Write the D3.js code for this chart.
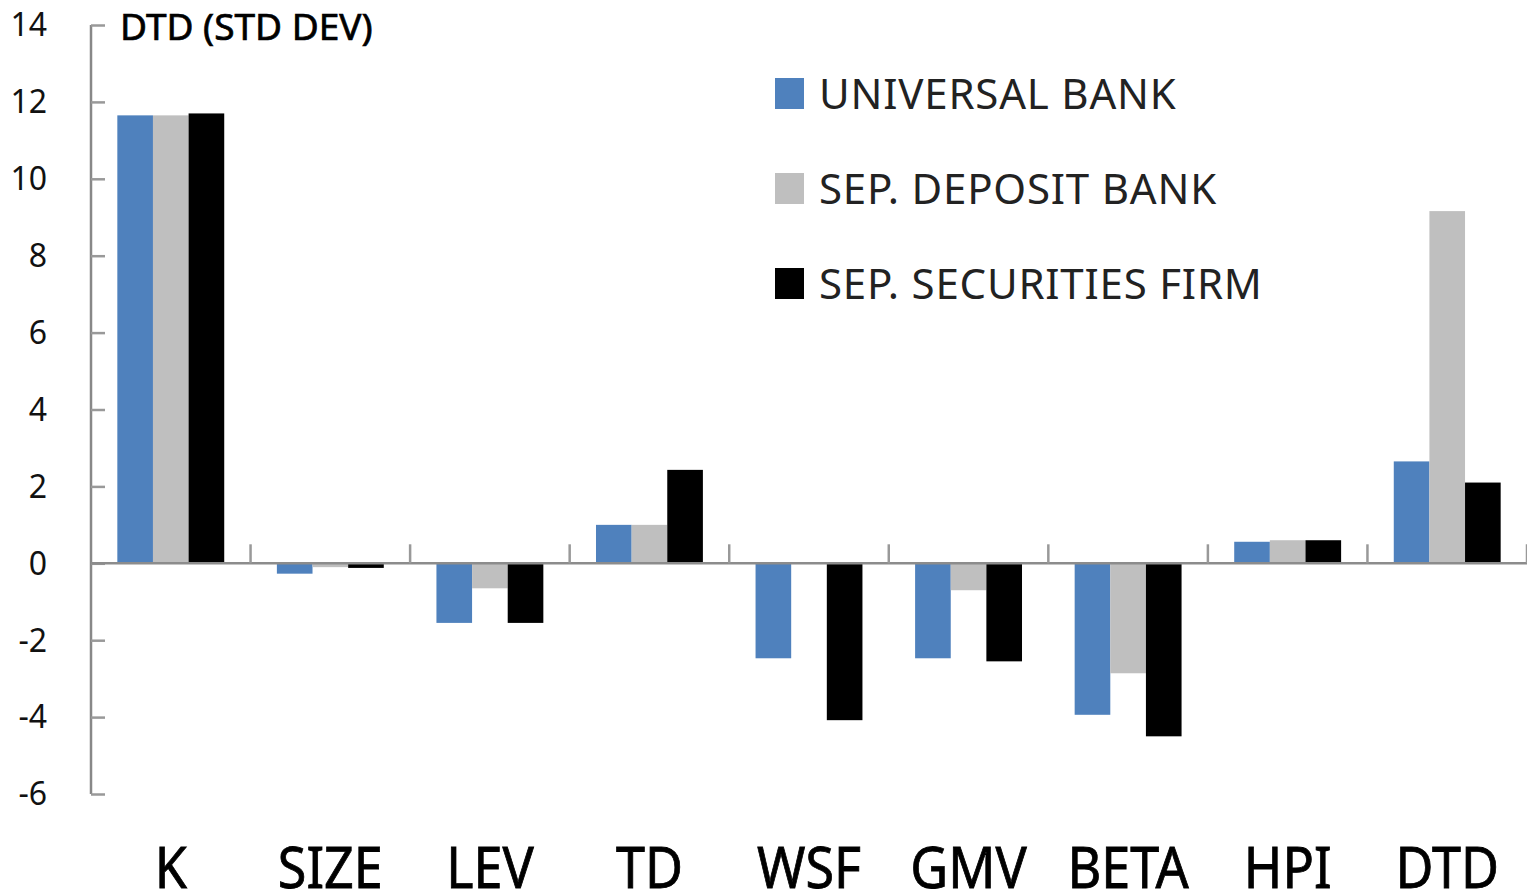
<!DOCTYPE html>
<html>
<head>
<meta charset="utf-8">
<script src="https://cdn.jsdelivr.net/npm/d3@7"></script>
<style>
  body { margin: 0; background: #fff; }
  svg text { font-family: "Noto Sans", "Open Sans", sans-serif; }
</style>
</head>
<body>
<svg width="1527" height="893"></svg>
<script>
// chart data
var categories = ["K", "SIZE", "LEV", "TD", "WSF", "GMV", "BETA", "HPI", "DTD"];
var seriesNames = ["UNIVERSAL BANK", "SEP. DEPOSIT BANK", "SEP. SECURITIES FIRM"];
var universalBank = [11.65, -0.27, -1.55, 1.0, -2.47, -2.47, -3.94, 0.56, 2.65];
var depositBank = [11.65, -0.1, -0.65, 1.0, 0.0, -0.7, -2.86, 0.6, 9.16];
var securitiesFirm = [11.7, -0.12, -1.55, 2.43, -4.08, -2.55, -4.5, 0.6, 2.1];
var yTicks = [14, 12, 10, 8, 6, 4, 2, 0, -2, -4, -6];
var colors = ["#4f81bd", "#bfbfbf", "#000000"];

var svg = d3.select("svg"),
    margin = {top: 25, right: 0, bottom: 99, left: 91},
    width = +svg.attr("width") - margin.left - margin.right,
    height = +svg.attr("height") - margin.top - margin.bottom;

var seriesValues = [universalBank, depositBank, securitiesFirm];
var data = categories.map(function(c, i) {
  return {cat: c, values: seriesNames.map(function(s, j) { return {name: s, value: seriesValues[j][i]}; })};
});

var x0 = d3.scaleBand().domain(categories).range([0, width]),
    y = d3.scaleLinear().domain([-6, 14]).range([height, 0]);

var groupW = x0.bandwidth() * 0.67;
var x1 = d3.scaleBand().domain(seriesNames).range([0, groupW]);
var groupOff = (x0.bandwidth() - groupW) / 2;

var color = d3.scaleOrdinal().domain(seriesNames).range(colors);

var g = svg.append("g")
    .attr("transform", "translate(" + margin.left + "," + margin.top + ")");

// bars
g.selectAll(".group")
  .data(data)
  .enter().append("g")
    .attr("class", "group")
    .attr("transform", function(d) { return "translate(" + (x0(d.cat) + groupOff) + ",0)"; })
  .selectAll("rect")
  .data(function(d) { return d.values; })
  .enter().append("rect")
    .attr("x", function(d) { return x1(d.name); })
    .attr("y", function(d) { return y(Math.max(0, d.value)); })
    .attr("width", x1.bandwidth())
    .attr("height", function(d) { return Math.abs(y(d.value) - y(0)); })
    .attr("fill", function(d) { return color(d.name); });

// y axis
var yAxis = g.append("g")
    .attr("class", "axis axis--y")
    .call(d3.axisLeft(y).tickValues(yTicks).tickSize(-14).tickPadding(44)
      .tickFormat(function(d) { return String(d); }));
yAxis.select(".domain").attr("stroke", "#888").attr("stroke-width", 2.5).attr("d", "M0," + y(14) + "V" + y(-6));
yAxis.selectAll(".tick line").attr("stroke", "#999").attr("stroke-width", 2.5);
yAxis.selectAll(".tick text")
    .attr("font-size", 32)
    .attr("fill", "#111")
    .attr("dy", "0.34em");

// x axis at zero
var xAxis = g.append("g").attr("class", "axis axis--x")
    .attr("transform", "translate(0," + y(0) + ")");
xAxis.append("line")
    .attr("x1", 0).attr("x2", width)
    .attr("stroke", "#8c8c8c").attr("stroke-width", 2.5);
xAxis.selectAll(".xtick")
  .data(categories)
  .enter().append("line")
    .attr("class", "xtick")
    .attr("x1", function(d) { return x0(d) + x0.bandwidth(); })
    .attr("x2", function(d) { return x0(d) + x0.bandwidth(); })
    .attr("y1", -19).attr("y2", 0)
    .attr("stroke", "#999").attr("stroke-width", 2.5);

// category labels at the bottom
g.selectAll(".xlabel")
  .data(categories)
  .enter().append("text")
    .attr("class", "xlabel")
    .attr("transform", function(d) { return "translate(" + (x0(d) + x0.bandwidth() / 2) + "," + (height + 94) + ") scale(0.93,1)"; })
    .attr("text-anchor", "middle")
    .attr("font-size", 56)
    .attr("fill", "#000")
    .attr("stroke", "#000").attr("stroke-width", 0.8)
    .text(function(d) { return d; });

// title
svg.append("text")
    .attr("x", 120).attr("y", 40)
    .attr("font-size", 37)
    .attr("fill", "#000")
    .attr("stroke", "#000").attr("stroke-width", 0.7)
    .text("DTD (STD DEV)");

// legend
var legend = svg.append("g").attr("transform", "translate(775,78)");
var item = legend.selectAll(".item")
  .data(seriesNames)
  .enter().append("g")
    .attr("class", "item")
    .attr("transform", function(d, i) { return "translate(0," + (i * 95) + ")"; });
item.append("rect")
    .attr("width", 29).attr("height", 31)
    .attr("fill", function(d) { return color(d); });
item.append("text")
    .attr("x", 44).attr("y", 31)
    .attr("font-size", 42)
    .attr("letter-spacing", 0.8)
    .attr("fill", "#222")
    .text(function(d) { return d; });
</script>
</body>
</html>
